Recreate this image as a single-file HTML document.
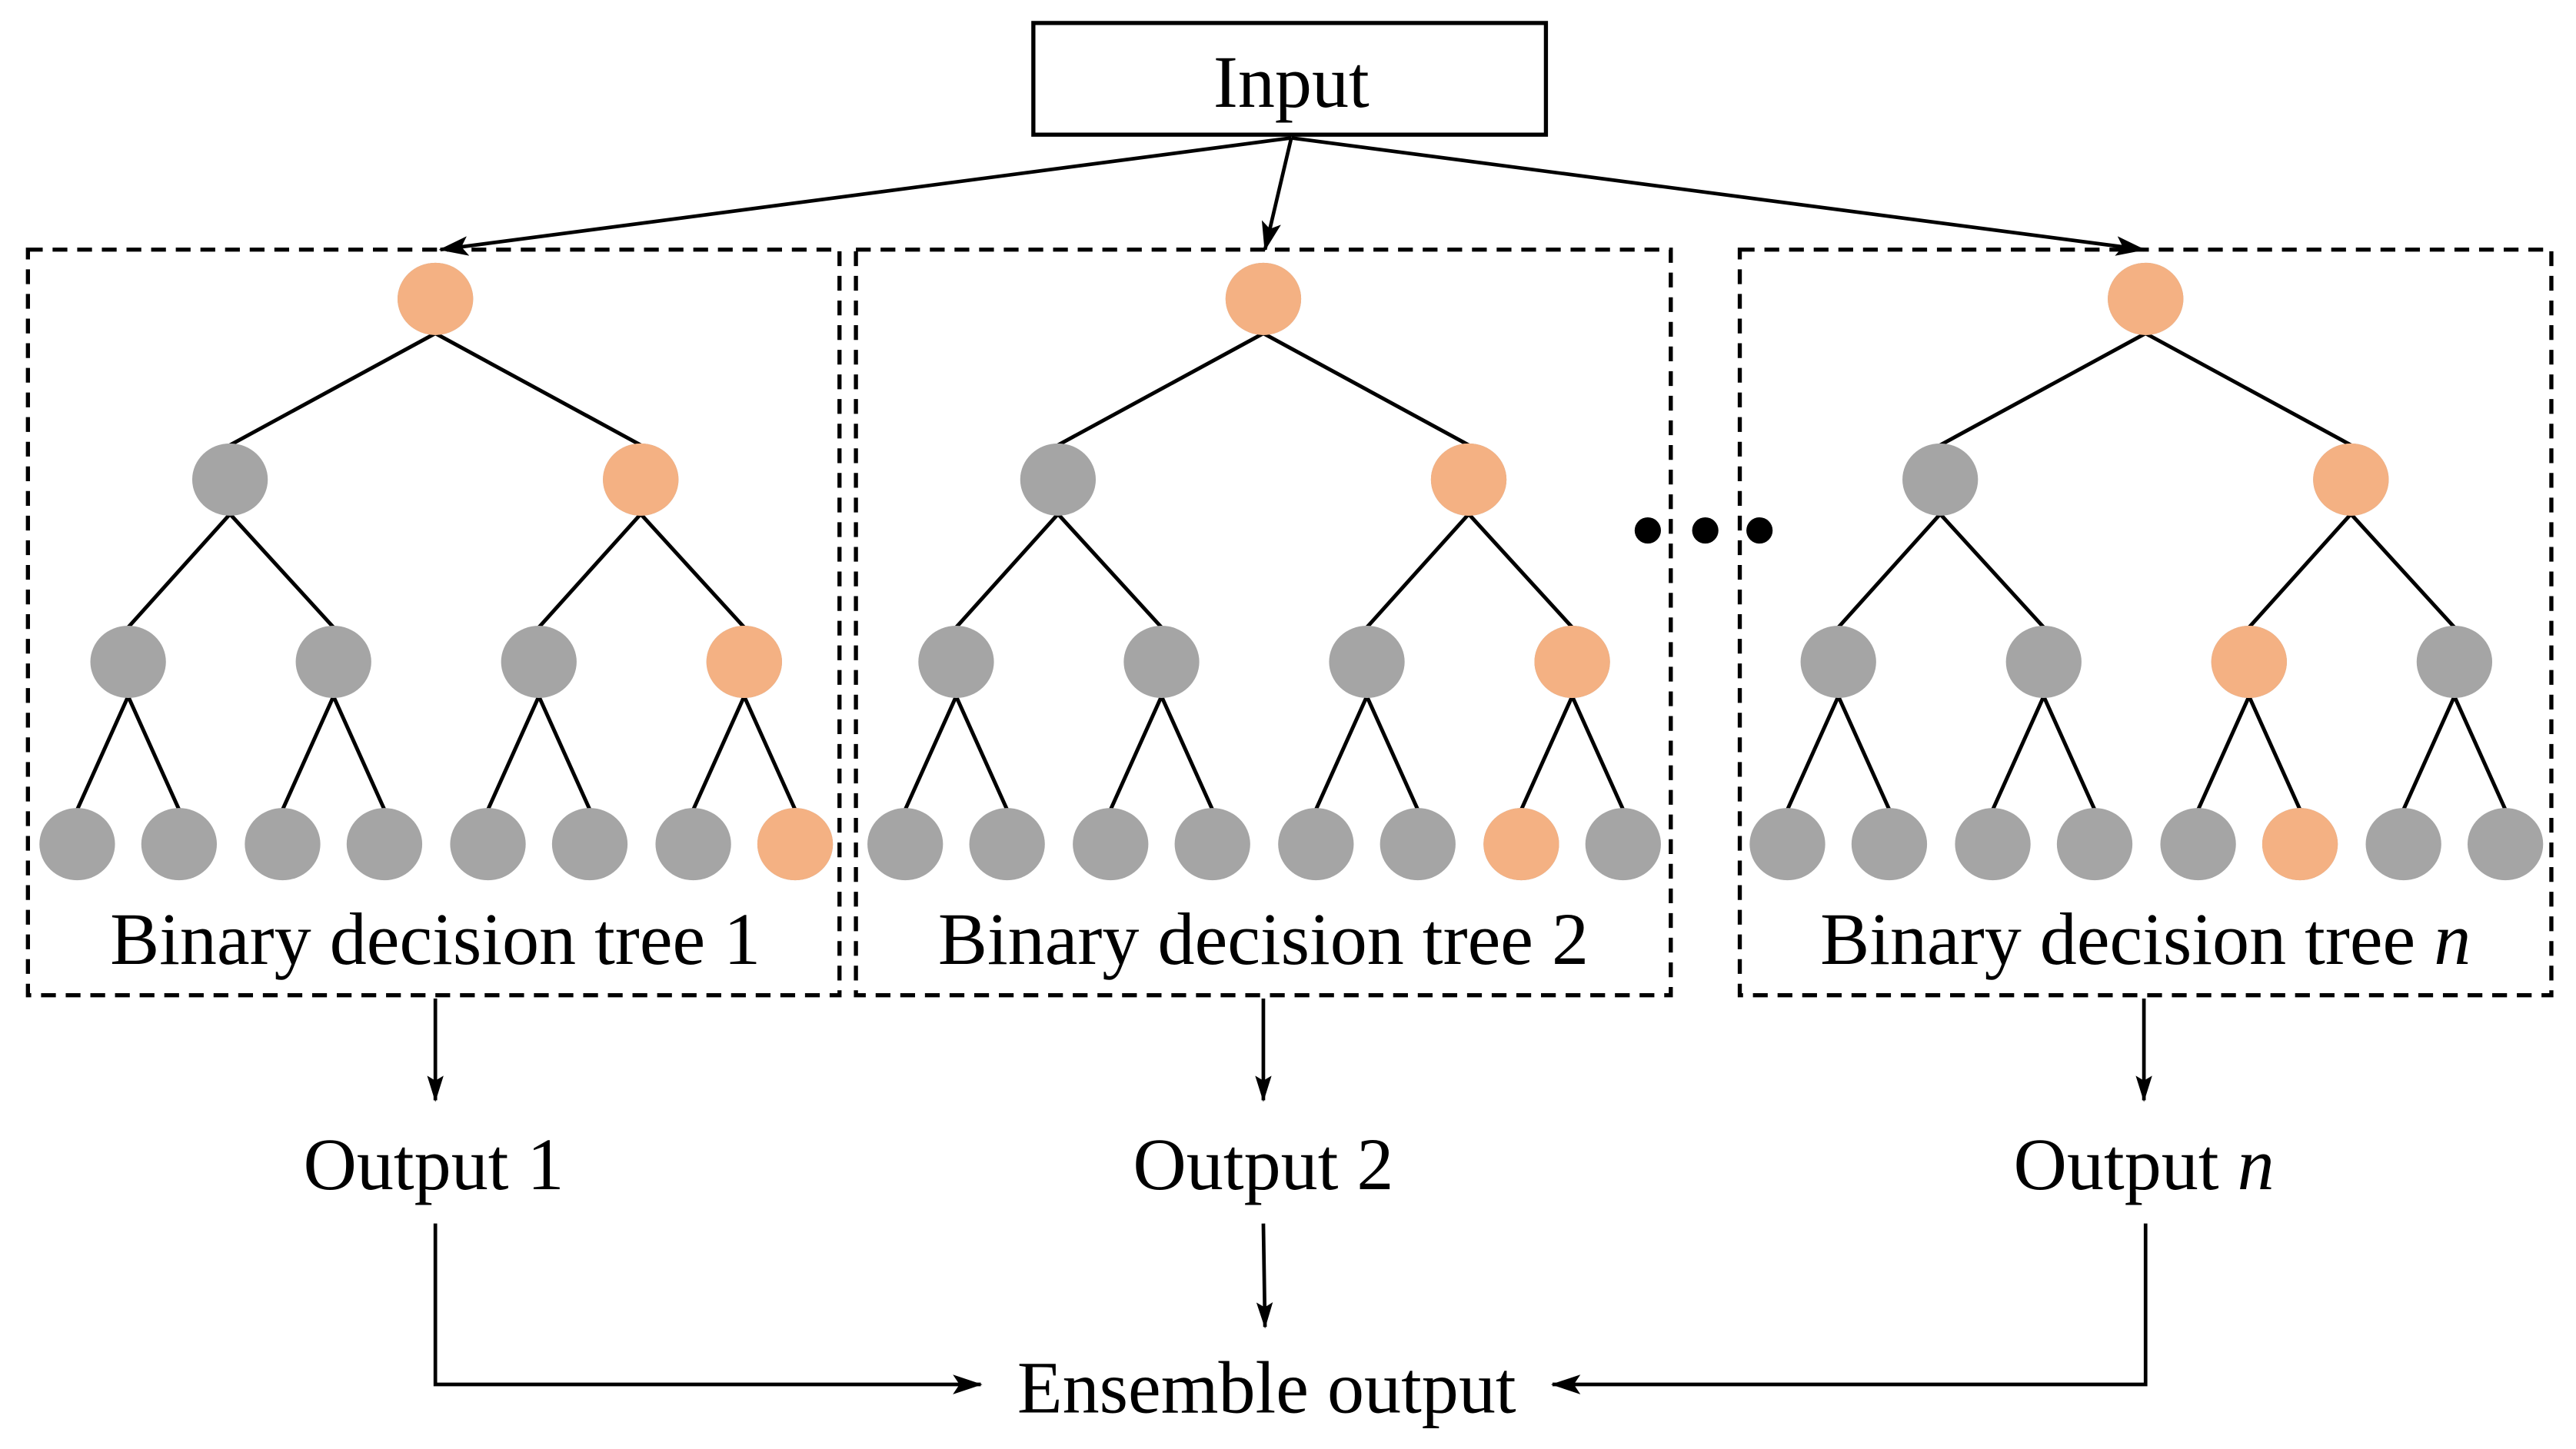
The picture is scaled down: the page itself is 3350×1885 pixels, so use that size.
<!DOCTYPE html>
<html><head><style>html,body{margin:0;padding:0;background:#fff}svg{display:block}</style></head><body>
<svg width="3350" height="1885" viewBox="0 0 1568 882.3" preserveAspectRatio="none" xmlns="http://www.w3.org/2000/svg" xmlns:xlink="http://www.w3.org/1999/xlink" font-family="Liberation Serif, serif">
<defs>
<marker id="a" markerWidth="16" markerHeight="10" refX="15" refY="5" orient="auto" markerUnits="userSpaceOnUse" viewBox="0 0 16 10"><path d="M0,0 L16,5 L0,10 L3,5 Z" fill="#000"/></marker>
<marker id="b" markerWidth="18" markerHeight="12" refX="17" refY="6" orient="auto" markerUnits="userSpaceOnUse" viewBox="0 0 18 12"><path d="M0,0 L18,6 L0,12 L4,6 Z" fill="#000"/></marker>
<g id="tree">
<g stroke="#000" stroke-width="2.3">
<line x1="265" y1="203" x2="140" y2="271"/><line x1="265" y1="203" x2="390" y2="271"/>
<line x1="140" y1="313" x2="78" y2="382"/><line x1="140" y1="313" x2="203" y2="382"/>
<line x1="390" y1="313" x2="328" y2="382"/><line x1="390" y1="313" x2="453" y2="382"/>
<line x1="78" y1="424" x2="47" y2="493"/><line x1="78" y1="424" x2="109" y2="493"/>
<line x1="203" y1="424" x2="172" y2="493"/><line x1="203" y1="424" x2="234" y2="493"/>
<line x1="328" y1="424" x2="297" y2="493"/><line x1="328" y1="424" x2="359" y2="493"/>
<line x1="453" y1="424" x2="422" y2="493"/><line x1="453" y1="424" x2="484" y2="493"/>
</g>
<g fill="#A5A5A5">
<ellipse cx="265" cy="182" rx="23" ry="22"/>
<ellipse cx="140" cy="292" rx="23" ry="22"/><ellipse cx="390" cy="292" rx="23" ry="22"/>
<ellipse cx="78" cy="403" rx="23" ry="22"/><ellipse cx="203" cy="403" rx="23" ry="22"/><ellipse cx="328" cy="403" rx="23" ry="22"/><ellipse cx="453" cy="403" rx="23" ry="22"/>
<ellipse cx="47" cy="514" rx="23" ry="22"/><ellipse cx="109" cy="514" rx="23" ry="22"/><ellipse cx="172" cy="514" rx="23" ry="22"/><ellipse cx="234" cy="514" rx="23" ry="22"/>
<ellipse cx="297" cy="514" rx="23" ry="22"/><ellipse cx="359" cy="514" rx="23" ry="22"/><ellipse cx="422" cy="514" rx="23" ry="22"/><ellipse cx="484" cy="514" rx="23" ry="22"/>
</g>
</g>
</defs>
<rect x="629" y="14" width="312" height="68" fill="#fff" stroke="#000" stroke-width="2.5"/>
<text x="786" y="65" font-size="45" text-anchor="middle">Input</text>
<g stroke="#000" stroke-width="2.2" fill="none">
<line x1="786" y1="84" x2="268" y2="152" marker-end="url(#b)"/>
<line x1="786" y1="84" x2="770" y2="152" marker-end="url(#b)"/>
<line x1="786" y1="84" x2="1305" y2="152" marker-end="url(#b)"/>
</g>
<g fill="none" stroke="#000" stroke-width="2.5" stroke-dasharray="9,6">
<rect x="17" y="152" width="494" height="454"/>
<rect x="521" y="152" width="496" height="454"/>
<rect x="1059" y="152" width="494" height="454"/>
</g>
<use xlink:href="#tree" href="#tree"/>
<use xlink:href="#tree" href="#tree" transform="translate(504,0)"/>
<use xlink:href="#tree" href="#tree" transform="translate(1041,0)"/>
<g fill="#F4B183">
<ellipse cx="265" cy="182" rx="23" ry="22"/><ellipse cx="390" cy="292" rx="23" ry="22"/><ellipse cx="453" cy="403" rx="23" ry="22"/><ellipse cx="484" cy="514" rx="23" ry="22"/>
<ellipse cx="769" cy="182" rx="23" ry="22"/><ellipse cx="894" cy="292" rx="23" ry="22"/><ellipse cx="957" cy="403" rx="23" ry="22"/><ellipse cx="926" cy="514" rx="23" ry="22"/>
<ellipse cx="1306" cy="182" rx="23" ry="22"/><ellipse cx="1431" cy="292" rx="23" ry="22"/><ellipse cx="1369" cy="403" rx="23" ry="22"/><ellipse cx="1400" cy="514" rx="23" ry="22"/>
</g>
<g font-size="45" text-anchor="middle">
<text x="265" y="587">Binary decision tree 1</text>
<text x="769" y="587">Binary decision tree 2</text>
<text x="1306" y="587">Binary decision tree <tspan font-style="italic">n</tspan></text>
<text x="264" y="724">Output 1</text>
<text x="769" y="724">Output 2</text>
<text x="1305" y="724">Output <tspan font-style="italic">n</tspan></text>
<text x="771" y="860">Ensemble output</text>
</g>
<circle cx="1003" cy="323" r="8"/><circle cx="1038" cy="323" r="8"/><circle cx="1071" cy="323" r="8"/>
<g stroke="#000" stroke-width="2.2" fill="none">
<line x1="265" y1="608" x2="265" y2="670" marker-end="url(#a)"/>
<line x1="769" y1="608" x2="769" y2="670" marker-end="url(#a)"/>
<line x1="1305" y1="608" x2="1305" y2="670" marker-end="url(#a)"/>
<line x1="769" y1="745" x2="770" y2="808" marker-end="url(#a)"/>
<polyline points="265,745 265,843 597,843" marker-end="url(#b)"/>
<polyline points="1306,745 1306,843 945,843" marker-end="url(#b)"/>
</g>
</svg>
</body></html>
